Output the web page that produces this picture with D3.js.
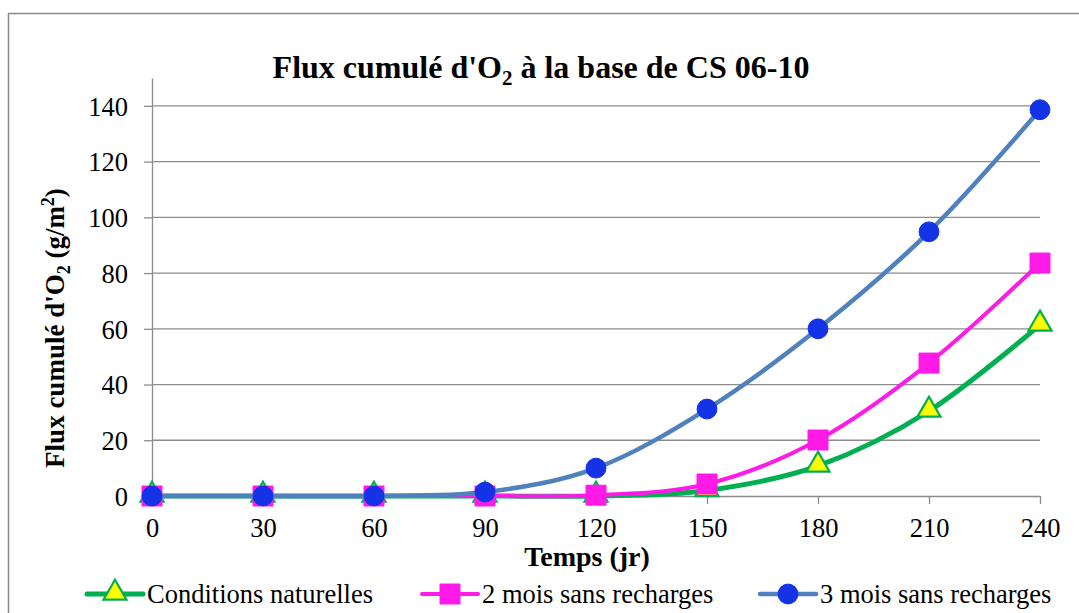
<!DOCTYPE html>
<html>
<head>
<meta charset="utf-8">
<script src="https://cdn.jsdelivr.net/npm/d3@7"></script>
<style>
  body { margin: 0; background: #fff; }
</style>
</head>
<body>
<svg id="chart" width="1079" height="613"></svg>
<script>
// data
const days      = [0, 30, 60, 90, 120, 150, 180, 210, 240];
const naturel   = [0, 0, 0, 0, 0, 2, 10.8, 30.5, 61.4];
const deuxMois  = [0, 0, 0, 0, 0.3, 4.3, 20.1, 47.7, 83.6];
const troisMois = [0, 0, 0, 1.4, 10, 31.2, 60, 94.8, 138.6];
const yTicks    = [0, 20, 40, 60, 80, 100, 120, 140];
const xTicks    = [0, 30, 60, 90, 120, 150, 180, 210, 240];

const series = [
  { name: "Conditions naturelles",   values: naturel,   line: "#00B050", width: 5,   marker: "triangle", fill: "#FFFF00", stroke: "#00B050" },
  { name: "2 mois sans recharges",   values: deuxMois,  line: "#FF1AE8", width: 4,   marker: "square",   fill: "#FF1AE8", stroke: "#FF1AE8" },
  { name: "3 mois sans recharges",   values: troisMois, line: "#4F81BD", width: 4.5, marker: "circle",   fill: "#1432E6", stroke: "#1432E6" }
];

const svg = d3.select("#chart");
const grid = "#8c8c8c";
const fs = "26.5px";
const serif = "'Liberation Serif', 'Times New Roman', serif";

// outer frame
svg.append("rect")
  .attr("x", 8.5).attr("y", 13.5)
  .attr("width", 1200).attr("height", 800)
  .attr("fill", "none").attr("stroke", "#888").attr("stroke-width", 1.5);

const x = d3.scaleLinear().domain([0, 240]).range([152, 1040]);
const y = d3.scaleLinear().domain([0, 150]).range([496, 78]);

// gridlines
svg.append("g").selectAll("line")
  .data(yTicks.filter(d => d > 0))
  .join("line")
    .attr("x1", x(0)).attr("x2", x(240))
    .attr("y1", d => y(d)).attr("y2", d => y(d))
    .attr("stroke", grid).attr("stroke-width", 1.3);

// y axis
const yAxis = svg.append("g")
  .attr("transform", `translate(${x(0)},0)`)
  .call(d3.axisLeft(y).tickValues(yTicks).tickSize(8).tickPadding(16).tickSizeOuter(0))
  .attr("font-family", serif);
yAxis.select(".domain").attr("stroke", grid).attr("stroke-width", 1.3);
yAxis.selectAll(".tick line").attr("stroke", grid).attr("stroke-width", 1.3);
yAxis.selectAll("text").style("font-family", serif).style("font-size", fs).attr("dy", "0.35em");

// x axis
const xAxis = svg.append("g")
  .attr("transform", `translate(0,${y(0)})`)
  .call(d3.axisBottom(x).tickValues(xTicks).tickSize(8).tickPadding(14).tickSizeOuter(0))
  .attr("font-family", serif);
xAxis.select(".domain").attr("stroke", grid).attr("stroke-width", 1.3);
xAxis.selectAll(".tick line").attr("stroke", grid).attr("stroke-width", 1.3);
xAxis.selectAll("text").style("font-family", serif).style("font-size", fs);

// lines
const line = d3.line()
  .x((d, i) => x(days[i]))
  .y(d => y(d))
  .curve(d3.curveCardinal.tension(0));

const sym = {
  triangle: d3.symbol().type(d3.symbolTriangle).size(230),
  square:   d3.symbol().type(d3.symbolSquare).size(400),
  circle:   d3.symbol().type(d3.symbolCircle).size(310)
};

series.forEach(s => {
  const g = svg.append("g");
  g.append("path")
    .datum(s.values)
    .attr("d", line)
    .attr("fill", "none")
    .attr("stroke", s.line)
    .attr("stroke-width", s.width);
  g.selectAll("path.mk")
    .data(s.values)
    .join("path")
      .attr("class", "mk")
      .attr("transform", (d, i) => `translate(${x(days[i])},${y(d) + (s.marker === "triangle" ? -1 : 0)})`)
      .attr("d", sym[s.marker])
      .attr("fill", s.fill)
      .attr("stroke", s.stroke)
      .attr("stroke-width", s.marker === "triangle" ? 2.2 : 1);
});

// title
const title = svg.append("text")
  .attr("x", 541).attr("y", 78)
  .attr("text-anchor", "middle")
  .style("font-family", serif)
  .style("font-size", "32px").style("font-weight", "bold");
title.append("tspan").text("Flux cumulé d'O");
title.append("tspan").attr("dy", 7).style("font-size", "21px").text("2");
title.append("tspan").attr("dy", -7).text(" à la base de CS 06-10");

// axis titles
svg.append("text")
  .attr("x", 587).attr("y", 566)
  .attr("text-anchor", "middle")
  .style("font-family", serif)
  .style("font-size", "28px").style("font-weight", "bold")
  .text("Temps (jr)");

const yt = svg.append("text")
  .attr("transform", "translate(64,328) rotate(-90)")
  .attr("text-anchor", "middle")
  .style("font-family", serif)
  .style("font-size", "27px").style("font-weight", "bold");
yt.append("tspan").text("Flux cumulé d'O");
yt.append("tspan").attr("dy", 6).style("font-size", "18px").text("2");
yt.append("tspan").attr("dy", -6).text(" (g/m");
yt.append("tspan").attr("dy", -10).style("font-size", "18px").text("2");
yt.append("tspan").attr("dy", 10).text(")");

// legend
const legendX = [87, 422, 760];
series.forEach((s, i) => {
  const g = svg.append("g").attr("transform", `translate(${legendX[i]},594)`);
  g.append("line")
    .attr("x1", 0).attr("x2", 56)
    .attr("stroke", s.line).attr("stroke-width", s.width).attr("stroke-linecap", "round");
  g.append("path")
    .attr("transform", `translate(28,${s.marker === "triangle" ? -1 : 0})`)
    .attr("d", sym[s.marker])
    .attr("fill", s.fill).attr("stroke", s.stroke)
    .attr("stroke-width", s.marker === "triangle" ? 2.2 : 1);
  g.append("text")
    .attr("x", 60).attr("y", 9)
    .style("font-family", serif)
    .style("font-size", fs)
    .text(s.name);
});
</script>
</body>
</html>
